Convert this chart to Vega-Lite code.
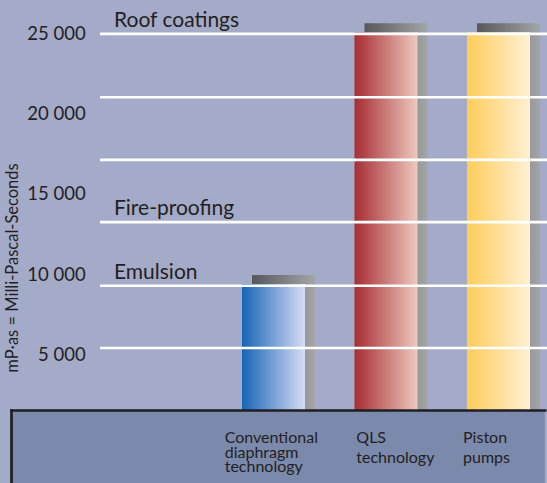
{
  "$schema": "https://vega.github.io/schema/vega-lite/v6.json",
  "background": "#a3abc8",
  "padding": {"left": 4, "top": 5, "right": 0, "bottom": 0},
  "spacing": 0,
  "config": {
    "view": {"stroke": null},
    "font": "Lato",
    "text": {"font": "Lato", "color": "#231f20"},
    "axis": {"labelFont": "Lato", "titleFont": "Lato"}
  },
  "datasets": {
    "bars": [
      {"technology": "Conventional diaphragm technology", "label": "Conventional\ndiaphragm\ntechnology", "mpas": 9380},
      {"technology": "QLS technology", "label": "QLS\ntechnology", "mpas": 25100},
      {"technology": "Piston pumps", "label": "Piston\npumps", "mpas": 25100}
    ],
    "lines": [
      {"value": 25000, "label": "Roof coatings"},
      {"value": 21040, "label": ""},
      {"value": 17130, "label": ""},
      {"value": 13240, "label": "Fire-proofing"},
      {"value": 9270, "label": "Emulsion"},
      {"value": 5380, "label": ""}
    ]
  },
  "vconcat": [
    {
      "spacing": 0,
      "hconcat": [
        {
          "width": 86.7,
          "height": 405,
          "data": {"name": "lines"},
          "mark": {"type": "rule", "opacity": 0},
          "encoding": {
            "y": {
              "field": "value",
              "type": "quantitative",
              "scale": {"domain": [1510, 26800], "zero": false, "nice": false},
              "axis": {
                "orient": "right",
                "values": [5000, 10000, 15000, 20000, 25000],
                "labelExpr": "replace(format(datum.value, ','), ',', ' ')",
                "grid": false,
                "domain": false,
                "ticks": false,
                "labelAlign": "right",
                "labelPadding": -12.5,
                "labelFontSize": 18.5,
                "labelColor": "#231f20",
                "minExtent": 0,
                "maxExtent": 0,
                "title": "mP·as = Milli-Pascal-Seconds",
                "titleFontSize": 16.5,
                "titleFontWeight": "normal",
                "titleColor": "#231f20",
                "titleX": -77.5,
                "titleY": 262.5,
                "titleAngle": 270,
                "titleAlign": "center",
                "titleBaseline": "bottom"
              }
            }
          }
        },
        {
          "width": 447,
          "height": 405,
          "layer": [
            {
              "data": {"name": "bars"},
              "mark": {
                "type": "bar",
                "xOffset": 10,
                "yOffset": -9,
                "y2Offset": 0,
                "color": {"gradient": "linear", "stops": [{"offset": 0, "color": "#56585c"}, {"offset": 1, "color": "#a4a5a7"}]}
              },
              "encoding": {
                "x": {
                  "field": "technology",
                  "type": "nominal",
                  "scale": {
                    "domain": ["Conventional diaphragm technology", "QLS technology", "Piston pumps"],
                    "paddingInner": 0.44,
                    "paddingOuter": 0.70667,
                    "align": 0.89308
                  },
                  "axis": null
                },
                "y": {
                  "field": "mpas",
                  "type": "quantitative",
                  "scale": {"domain": [1510, 26800], "zero": false, "nice": false},
                  "axis": null
                },
                "y2": {"datum": 1510}
              }
            },
            {
              "data": {"name": "bars"},
              "transform": [{"filter": "datum.technology == 'Conventional diaphragm technology'"}],
              "mark": {
                "type": "bar",
                "color": {"gradient": "linear", "stops": [{"offset": 0, "color": "#1764b6"}, {"offset": 1, "color": "#d6ddf3"}]}
              },
              "encoding": {
                "x": {"field": "technology", "type": "nominal", "axis": null},
                "y": {"field": "mpas", "type": "quantitative", "axis": null},
                "y2": {"datum": 1510}
              }
            },
            {
              "data": {"name": "bars"},
              "transform": [{"filter": "datum.technology == 'QLS technology'"}],
              "mark": {
                "type": "bar",
                "color": {"gradient": "linear", "stops": [{"offset": 0, "color": "#a62d33"}, {"offset": 1, "color": "#edc9c0"}]}
              },
              "encoding": {
                "x": {"field": "technology", "type": "nominal", "axis": null},
                "y": {"field": "mpas", "type": "quantitative", "axis": null},
                "y2": {"datum": 1510}
              }
            },
            {
              "data": {"name": "bars"},
              "transform": [{"filter": "datum.technology == 'Piston pumps'"}],
              "mark": {
                "type": "bar",
                "color": {"gradient": "linear", "stops": [{"offset": 0, "color": "#ffcd5a"}, {"offset": 1, "color": "#fff0d3"}]}
              },
              "encoding": {
                "x": {"field": "technology", "type": "nominal", "axis": null},
                "y": {"field": "mpas", "type": "quantitative", "axis": null},
                "y2": {"datum": 1510}
              }
            },
            {
              "data": {"name": "lines"},
              "mark": {"type": "rule", "color": "#ffffff", "strokeWidth": 2.7},
              "encoding": {
                "y": {"field": "value", "type": "quantitative", "axis": null}
              }
            },
            {
              "data": {"name": "lines"},
              "transform": [{"filter": "datum.label != ''"}],
              "mark": {"type": "text", "align": "left", "baseline": "alphabetic", "x": 0, "dx": 14, "dy": -7, "fontSize": 21, "color": "#231f20"},
              "encoding": {
                "y": {"field": "value", "type": "quantitative", "axis": null},
                "text": {"field": "label"}
              }
            }
          ]
        }
      ]
    },
    {
      "width": 533.7,
      "height": 73,
      "view": {"fill": "#7b89ad", "stroke": null},
      "data": {"name": "bars"},
      "encoding": {
        "x": {
          "field": "technology",
          "type": "nominal",
          "bandPosition": 0,
          "scale": {
            "type": "band",
            "domain": ["Conventional diaphragm technology", "QLS technology", "Piston pumps"],
            "paddingInner": 0,
            "paddingOuter": 1,
            "align": 1
          },
          "axis": {
            "orient": "top",
            "domain": true,
            "domainColor": "#1f1f23",
            "domainWidth": 2.7,
            "domainCap": "square",
            "ticks": false,
            "labels": false,
            "grid": false,
            "title": null,
            "minExtent": 0,
            "maxExtent": 0
          }
        },
        "y": {
          "datum": 1,
          "type": "quantitative",
          "scale": {"domain": [0, 1], "nice": false, "zero": false},
          "axis": {
            "orient": "left",
            "domain": true,
            "domainColor": "#1f1f23",
            "domainWidth": 2.7,
            "domainCap": "square",
            "ticks": false,
            "labels": false,
            "grid": false,
            "title": null,
            "minExtent": 0,
            "maxExtent": 0
          }
        }
      },
      "layer": [
        {
          "transform": [{"filter": "datum.technology == 'Conventional diaphragm technology'"}],
          "mark": {"type": "text", "align": "left", "baseline": "alphabetic", "lineBreak": "\n", "lineHeight": 14.5, "dx": 0.2, "dy": 33.3, "fontSize": 16, "color": "#231f20"},
          "encoding": {"text": {"field": "label"}}
        },
        {
          "transform": [{"filter": "datum.technology != 'Conventional diaphragm technology'"}],
          "mark": {"type": "text", "align": "left", "baseline": "alphabetic", "lineBreak": "\n", "lineHeight": 20, "dx": 25.1, "dy": 33.3, "fontSize": 16, "color": "#231f20"},
          "encoding": {"text": {"field": "label"}}
        }
      ]
    }
  ]
}
